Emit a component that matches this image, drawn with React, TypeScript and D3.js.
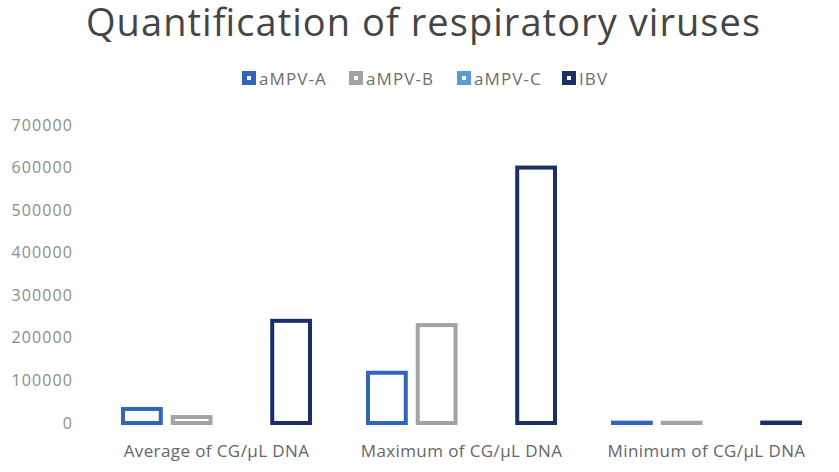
import * as d3 from 'd3';
import { useEffect, useRef } from 'react';

const categories = ['Average of CG/µL DNA', 'Maximum of CG/µL DNA', 'Minimum of CG/µL DNA'];
const seriesNames = ['aMPV-A', 'aMPV-B', 'aMPV-C', 'IBV'];
const aMPVA = [33000, 118000, 800];
const aMPVB = [14000, 230000, 600];
const aMPVC: (number | null)[] = [null, null, null];
const IBV = [240000, 600000, 1000];
const yTicks = [0, 100000, 200000, 300000, 400000, 500000, 600000, 700000];

const colors = ['#3463be', '#a3a3a3', '#5b9bd5', '#1b2f66'];
const font = "'Open Sans', 'DejaVu Sans', sans-serif";

function App() {
  const svgRef = useRef<SVGSVGElement>(null);

  useEffect(() => {
    if (!svgRef.current) {
      return;
    }
    const svg = d3.select(svgRef.current);
    svg.selectAll('*').remove();

    const width = 839;
    const height = 472;
    svg.attr('width', width).attr('height', height);

    const values = [aMPVA, aMPVB, aMPVC, IBV];

    // Scales
    const x0 = d3.scaleBand<string>().domain(categories).range([94, 829]).padding(0);
    const x1 = d3
      .scaleBand<string>()
      .domain(seriesNames)
      .range([27, 218])
      .paddingInner(0.16);
    const y = d3.scaleLinear().domain([0, 700000]).range([423, 125]);

    // Title
    svg
      .append('text')
      .attr('x', 423)
      .attr('y', 36)
      .attr('text-anchor', 'middle')
      .attr('textLength', 674)
      .attr('lengthAdjust', 'spacing')
      .style('font-family', font)
      .style('font-size', '38px')
      .style('font-weight', 400)
      .style('fill', '#454545')
      .text('Quantification of respiratory viruses');

    // Legend
    const legendX = [242, 349, 457, 562];
    seriesNames.forEach((name, i) => {
      const row = svg.append('g').attr('transform', `translate(${legendX[i]}, 71)`);
      row
        .append('rect')
        .attr('x', 2.5)
        .attr('y', 2.5)
        .attr('width', 9)
        .attr('height', 9)
        .attr('fill', '#fff')
        .attr('stroke', colors[i])
        .attr('stroke-width', 5);
      row
        .append('text')
        .attr('x', 17)
        .attr('y', 13.5)
        .style('font-family', font)
        .style('font-size', '17px')
        .style('letter-spacing', '1.1px')
        .style('fill', '#6e6e6e')
        .text(name);
    });

    // Y axis
    const yAxis = d3
      .axisLeft(y)
      .tickValues(yTicks)
      .tickSize(0)
      .tickPadding(8)
      .tickFormat((d) => `${d}`);

    const yAxisG = svg.append('g').attr('transform', 'translate(81,0)').call(yAxis);
    yAxisG.select('.domain').remove();
    yAxisG
      .selectAll('text')
      .style('font-family', font)
      .style('font-size', '16px')
      .style('letter-spacing', '1.1px')
      .style('fill', '#8c8c8c');

    // Bars
    categories.forEach((cat, ci) => {
      const g = svg.append('g').attr('transform', `translate(${x0(cat)},0)`);
      seriesNames.forEach((name, si) => {
        const v = values[si][ci];
        if (v === null || v === undefined) {
          return;
        }
        const bx = x1(name) as number;
        const bw = x1.bandwidth();
        g.append('rect')
          .attr('x', bx + 2)
          .attr('y', y(v))
          .attr('width', bw - 4)
          .attr('height', Math.max(0, y(0) - y(v)))
          .attr('fill', 'none')
          .attr('stroke', colors[si])
          .attr('stroke-width', 4);
      });

      // Category label
      svg
        .append('text')
        .attr('x', (x0(cat) as number) + x0.bandwidth() / 2)
        .attr('y', 457)
        .attr('text-anchor', 'middle')
        .style('font-family', font)
        .style('font-size', '17px')
        .style('letter-spacing', '0.4px')
        .style('fill', '#666666')
        .text(cat);
    });
  }, []);

  return (
    <div style={{ position: 'fixed', left: 0, top: 0, background: '#fff' }}>
      <svg ref={svgRef} style={{ display: 'block' }} />
    </div>
  );
}

export default App;
